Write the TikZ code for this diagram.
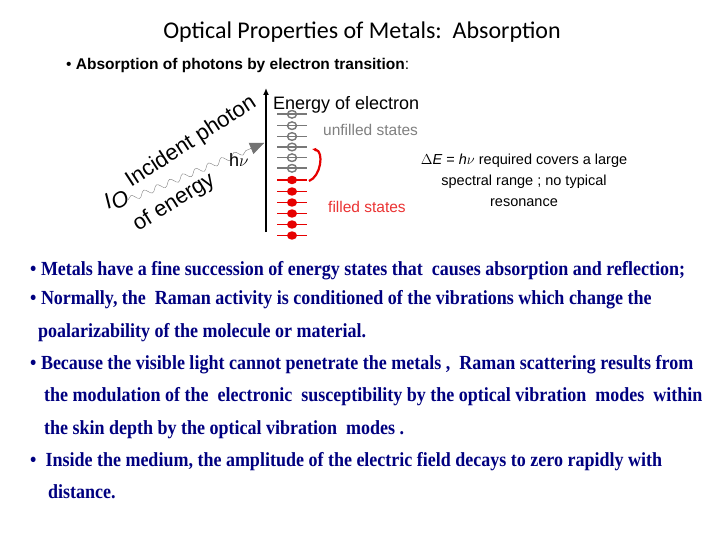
\documentclass[tikz,border=0pt]{standalone}
\usepackage{fontspec}
\setmainfont{Liberation Sans}
\newfontfamily\titlefont{Carlito}
\newfontfamily\cond[FakeStretch=0.9]{Liberation Serif}
\usetikzlibrary{decorations.pathmorphing,arrows.meta,calc}
\definecolor{navy}{RGB}{0,0,128}
\definecolor{lvlred}{RGB}{230,0,0}
\definecolor{lvlgray}{RGB}{120,120,120}
\begin{document}
\begin{tikzpicture}[x=1pt,y=-1pt,
  body/.style={anchor=base west,inner sep=0,text=navy,font=\cond\bfseries\fontsize{20}{22}\selectfont},
  rot/.style={anchor=base west,inner sep=0,font=\fontsize{22}{24}\selectfont}]
\useasboundingbox[fill=white] (0,0) rectangle (720,540);
\node[font=\titlefont\fontsize{24}{28}\selectfont] (title) at (362,32) {Optical Properties of Metals:\ \ Absorption};
\node[anchor=base west,inner sep=0,font=\fontsize{15.5}{18}\selectfont] (sub) at (66,70) {\textbullet\ \textbf{Absorption of photons by electron transition}:};
% axis
\coordinate (ab) at (266,232); \coordinate (at) at (266,88);
\draw[line width=1.8pt,-{Latex[length=7pt,width=6pt]}] (ab) -- (at);
% levels
\foreach \y in {114.3,125.7,136.5,147,157.7,168.3}{
  \draw[lvlgray,line width=1.6pt] (277,\y) -- (307,\y);
  \draw[lvlgray,line width=1.4pt] (292,\y) circle[x radius=4.5,y radius=3.8];}
\foreach \y in {180,191.5,202.5,213.5,224.5,235.5}{
  \draw[lvlred,line width=1.6pt] (277,\y) -- (307,\y);
  \fill[lvlred] (292,\y) circle[x radius=5,y radius=4.2];}
\coordinate (ts) at (309,181); \coordinate (te) at (312,149);
\draw[lvlred,line width=2.2pt,-{Latex[length=4pt,width=4pt]}] (ts) to[out=20,in=-10] (te);
% wavy photon
\coordinate (ws) at (128,200); \coordinate (we) at (264,143);
\draw[gray,thin,decorate,decoration={snake,amplitude=3pt,segment length=14pt,post length=14pt}] (ws) -- (we);
\draw[gray!90!black,-{Triangle[length=14pt,width=12pt]},line width=0.5pt] ($(we)!0.1!(ws)$) -- (we);
\node[rot,rotate=33] (inc) at (131,188) {Incident photon};
\node[rot,rotate=32] (oe) at (138,232) {of energy};
\node[rot,rotate=25] (io) at (108,210) {\textit{I}\raisebox{-4pt}{\textit{O}}};
\node[anchor=base west,inner sep=0,font=\fontsize{18}{20}\selectfont] (hv) at (229,167) {h\rlap{$\nu$}\hspace{6pt}};
\node[anchor=base west,inner sep=0,font=\fontsize{18}{20}\selectfont] (en) at (273,110) {Energy of electron};
\node[anchor=base west,inner sep=0,text=gray,font=\fontsize{15.5}{18}\selectfont] (uf) at (323,136) {unfilled states};
\node[anchor=base west,inner sep=0,text=lvlred!80,font=\fontsize{15.5}{18}\selectfont] (fs) at (328,213) {filled states};
\node[align=center,inner sep=0,font=\fontsize{14.5}{21}\selectfont] (de) at (524,180) {$\Delta$\textit{E} = \textit{h}$\nu$ required covers a large\\spectral range ; no typical\\resonance};
% body
\node[body] (b1) at (30,275) {\textbullet\ Metals have a fine succession of energy states that\ \ causes absorption and reflection;};
\node[body] (b2) at (30,304) {\textbullet\ Normally, the\ \ Raman activity is conditioned of the vibrations which change the};
\node[body] (b3) at (38,337) {poalarizability of the molecule or material.};
\node[body] (b4) at (30,369) {\textbullet\ Because the visible light cannot penetrate the metals ,\ \ Raman scattering results from};
\node[body] (b5) at (44,401) {the modulation of the\ \ electronic\ \ susceptibility by the optical vibration\ \ modes\ \ within};
\node[body] (b6) at (44,434) {the skin depth by the optical vibration\ \ modes .};
\node[body] (b7) at (30,466) {\textbullet\ \ Inside the medium, the amplitude of the electric field decays to zero rapidly with};
\node[body] (b8) at (48,498) {distance.};
\end{tikzpicture}
\end{document}
